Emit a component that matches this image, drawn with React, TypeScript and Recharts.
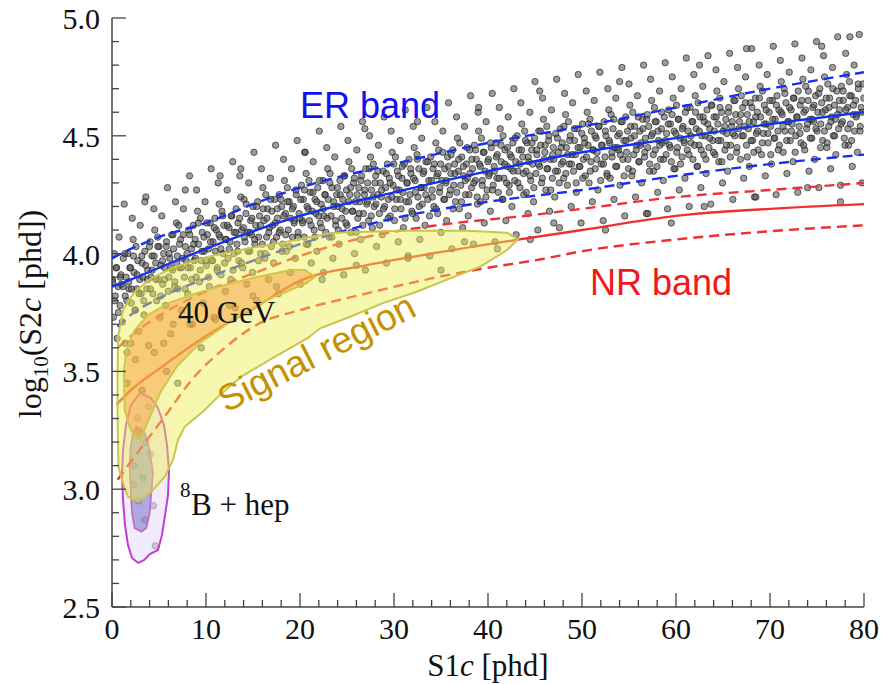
import React from 'react'
import { ComposedChart, Scatter, XAxis, YAxis } from 'recharts'

const W = 887
const H = 684
const SERIF = "'Liberation Serif', 'Times New Roman', serif"
const SANS = "'Liberation Sans', Arial, sans-serif"
const FRAME = '#444'

const xTicks = [0, 2, 4, 6, 8, 10, 12, 14, 16, 18, 20, 22, 24, 26, 28, 30, 32, 34, 36, 38, 40, 42, 44, 46, 48, 50, 52, 54, 56, 58, 60, 62, 64, 66, 68, 70, 72, 74, 76, 78, 80]
const yTicks = [2.5, 2.6, 2.7, 2.8, 2.9, 3.0, 3.1, 3.2, 3.3, 3.4, 3.5, 3.6, 3.7, 3.8, 3.9, 4.0, 4.1, 4.2, 4.3, 4.4, 4.5, 4.6, 4.7, 4.8, 4.9, 5.0]

// ER calibration events (S1c, log10 S2c)
const erCloud: [number, number][] = [
  [0.05,3.89],[0.15,3.73],[0.25,4.00],[0.35,3.82],[0.45,3.94],[0.55,3.64],[0.65,3.86],[0.75,4.07],[0.85,3.78],[0.95,3.91],
  [1.0,3.87],[1.1,3.71],[1.2,3.98],[1.3,4.21],[1.4,3.82],[1.5,3.90],[1.6,3.58],[1.7,4.00],[1.8,3.85],[1.9,3.94],
  [2.05,3.79],[2.15,4.15],[2.25,4.06],[2.35,3.92],[2.45,3.76],[2.55,4.03],[2.65,3.85],[2.75,3.97],[2.85,3.67],[2.95,3.89],
  [3.0,4.12],[3.1,3.83],[3.2,3.96],[3.3,3.90],[3.4,3.74],[3.5,4.01],[3.6,4.24],[3.7,3.85],[3.8,3.93],[3.9,3.61],
  [4.05,4.05],[4.15,3.90],[4.25,3.99],[4.35,3.83],[4.45,4.19],[4.55,4.10],[4.65,3.96],[4.75,3.80],[4.85,4.07],[4.95,3.89],
  [5.0,4.03],[5.1,3.73],[5.2,3.95],[5.3,4.16],[5.4,3.87],[5.5,4.00],[5.6,3.94],[5.7,3.78],[5.8,4.05],[5.9,4.28],
  [6.05,3.90],[6.15,3.98],[6.25,3.66],[6.35,4.08],[6.45,3.93],[6.55,4.02],[6.65,3.86],[6.75,4.22],[6.85,4.13],[6.95,3.99],
  [7.0,3.85],[7.1,4.12],[7.2,3.94],[7.3,4.06],[7.4,3.76],[7.5,3.98],[7.6,4.19],[7.7,3.90],[7.8,4.03],[7.9,3.97],
  [8.05,3.83],[8.15,4.10],[8.25,4.33],[8.35,3.94],[8.45,4.02],[8.55,3.70],[8.65,4.12],[8.75,3.97],[8.85,4.06],[8.95,3.90],
  [9.0,4.27],[9.1,4.18],[9.2,4.04],[9.3,3.88],[9.4,4.15],[9.5,3.97],[9.6,4.09],[9.7,3.79],[9.8,4.01],[9.9,4.22],
  [10.05,3.95],[10.15,4.08],[10.25,4.02],[10.35,3.86],[10.45,4.13],[10.55,4.36],[10.65,3.97],[10.75,4.05],[10.85,3.73],[10.95,4.15],
  [11.0,4.01],[11.1,4.10],[11.2,3.94],[11.3,4.30],[11.4,4.21],[11.5,4.07],[11.6,3.91],[11.7,4.18],[11.8,4.00],[11.9,4.12],
  [12.05,3.84],[12.15,4.06],[12.25,4.27],[12.35,3.98],[12.45,4.11],[12.55,4.05],[12.65,3.89],[12.75,4.16],[12.85,4.39],[12.95,4.00],
  [13.0,4.09],[13.1,3.77],[13.2,4.19],[13.3,4.04],[13.4,4.13],[13.5,3.97],[13.6,4.33],[13.7,4.24],[13.8,4.10],[13.9,3.94],
  [14.05,4.23],[14.15,4.05],[14.25,4.17],[14.35,3.87],[14.45,4.09],[14.55,4.30],[14.65,4.01],[14.75,4.14],[14.85,4.08],[14.95,3.92],
  [15.0,4.20],[15.1,4.43],[15.2,4.04],[15.3,4.12],[15.4,3.80],[15.5,4.22],[15.6,4.07],[15.7,4.16],[15.8,4.00],[15.9,4.36],
  [16.05,4.28],[16.15,4.14],[16.25,3.98],[16.35,4.25],[16.45,4.07],[16.55,4.19],[16.65,3.89],[16.75,4.11],[16.85,4.32],[16.95,4.03],
  [17.0,4.18],[17.1,4.12],[17.2,3.96],[17.3,4.23],[17.4,4.46],[17.5,4.07],[17.6,4.15],[17.7,3.83],[17.8,4.25],[17.9,4.10],
  [18.05,4.20],[18.15,4.04],[18.25,4.40],[18.35,4.31],[18.45,4.17],[18.55,4.01],[18.65,4.28],[18.75,4.10],[18.85,4.22],[18.95,3.92],
  [19.0,4.15],[19.1,4.36],[19.2,4.07],[19.3,4.20],[19.4,4.14],[19.5,3.98],[19.6,4.25],[19.7,4.48],[19.8,4.09],[19.9,4.17],
  [20.05,3.87],[20.15,4.29],[20.25,4.14],[20.35,4.23],[20.45,4.07],[20.55,4.43],[20.65,4.34],[20.75,4.20],[20.85,4.04],[20.95,4.31],
  [21.0,4.14],[21.1,4.26],[21.2,3.96],[21.3,4.18],[21.4,4.39],[21.5,4.10],[21.6,4.23],[21.7,4.17],[21.8,4.01],[21.9,4.28],
  [22.05,4.52],[22.15,4.13],[22.25,4.21],[22.35,3.89],[22.45,4.31],[22.55,4.16],[22.65,4.25],[22.75,4.09],[22.85,4.45],[22.95,4.36],
  [23.0,4.23],[23.1,4.07],[23.2,4.34],[23.3,4.16],[23.4,4.28],[23.5,3.98],[23.6,4.20],[23.7,4.41],[23.8,4.12],[23.9,4.25],
  [24.05,4.20],[24.15,4.04],[24.25,4.31],[24.35,4.54],[24.45,4.15],[24.55,4.23],[24.65,3.91],[24.75,4.33],[24.85,4.18],[24.95,4.27],
  [25.0,4.12],[25.1,4.48],[25.2,4.39],[25.3,4.25],[25.4,4.09],[25.5,4.36],[25.6,4.18],[25.7,4.30],[25.8,4.00],[25.9,4.22],
  [26.05,4.44],[26.15,4.15],[26.25,4.28],[26.35,4.22],[26.45,4.06],[26.55,4.33],[26.65,4.56],[26.75,4.17],[26.85,4.25],[26.95,3.93],
  [27.0,4.36],[27.1,4.21],[27.2,4.30],[27.3,4.14],[27.4,4.50],[27.5,4.41],[27.6,4.27],[27.7,4.11],[27.8,4.38],[27.9,4.20],
  [28.05,4.33],[28.15,4.03],[28.25,4.25],[28.35,4.46],[28.45,4.17],[28.55,4.30],[28.65,4.24],[28.75,4.08],[28.85,4.35],[28.95,4.58],
  [29.0,4.20],[29.1,4.28],[29.2,3.96],[29.3,4.38],[29.4,4.23],[29.5,4.32],[29.6,4.16],[29.7,4.52],[29.8,4.43],[29.9,4.29],
  [30.05,4.14],[30.15,4.41],[30.25,4.23],[30.35,4.35],[30.45,4.05],[30.55,4.27],[30.65,4.48],[30.75,4.19],[30.85,4.32],[30.95,4.26],
  [31.0,4.11],[31.1,4.38],[31.2,4.61],[31.3,4.22],[31.4,4.30],[31.5,3.98],[31.6,4.40],[31.7,4.25],[31.8,4.34],[31.9,4.18],
  [32.05,4.54],[32.15,4.45],[32.25,4.31],[32.35,4.15],[32.45,4.42],[32.55,4.24],[32.65,4.36],[32.75,4.06],[32.85,4.28],[32.95,4.49],
  [33.0,4.21],[33.1,4.34],[33.2,4.28],[33.3,4.12],[33.4,4.39],[33.5,4.62],[33.6,4.23],[33.7,4.31],[33.8,3.99],[33.9,4.41],
  [34.05,4.27],[34.15,4.36],[34.25,4.20],[34.35,4.56],[34.45,4.47],[34.55,4.33],[34.65,4.17],[34.75,4.44],[34.85,4.26],[34.95,4.38],
  [35.0,4.09],[35.1,4.31],[35.2,4.52],[35.3,4.23],[35.4,4.36],[35.5,4.30],[35.6,4.14],[35.7,4.41],[35.8,4.64],[35.9,4.25],
  [36.05,4.34],[36.15,4.02],[36.25,4.44],[36.35,4.29],[36.45,4.38],[36.55,4.22],[36.65,4.58],[36.75,4.49],[36.85,4.35],[36.95,4.19],
  [37.0,4.47],[37.1,4.29],[37.2,4.41],[37.3,4.11],[37.4,4.33],[37.5,4.54],[37.6,4.25],[37.7,4.38],[37.8,4.32],[37.9,4.16],
  [38.05,4.44],[38.15,4.67],[38.25,4.28],[38.35,4.36],[38.45,4.04],[38.55,4.46],[38.65,4.31],[38.75,4.40],[38.85,4.24],[38.95,4.60],
  [39.0,4.52],[39.1,4.38],[39.2,4.22],[39.3,4.49],[39.4,4.31],[39.5,4.43],[39.6,4.13],[39.7,4.35],[39.8,4.56],[39.9,4.27],
  [40.05,4.40],[40.15,4.34],[40.25,4.18],[40.35,4.45],[40.45,4.68],[40.55,4.29],[40.65,4.37],[40.75,4.05],[40.85,4.47],[40.95,4.32],
  [41.0,4.42],[41.1,4.26],[41.2,4.62],[41.3,4.53],[41.4,4.39],[41.5,4.23],[41.6,4.50],[41.7,4.32],[41.8,4.44],[41.9,4.14],
  [42.05,4.37],[42.15,4.58],[42.25,4.29],[42.35,4.42],[42.45,4.36],[42.55,4.20],[42.65,4.47],[42.75,4.70],[42.85,4.31],[42.95,4.39],
  [43.0,4.08],[43.1,4.50],[43.2,4.35],[43.3,4.44],[43.4,4.28],[43.5,4.64],[43.6,4.55],[43.7,4.41],[43.8,4.25],[43.9,4.52],
  [44.05,4.35],[44.15,4.47],[44.25,4.17],[44.35,4.39],[44.45,4.60],[44.55,4.31],[44.65,4.44],[44.75,4.38],[44.85,4.22],[44.95,4.49],
  [45.0,4.73],[45.1,4.34],[45.2,4.42],[45.3,4.10],[45.4,4.52],[45.5,4.37],[45.6,4.46],[45.7,4.30],[45.8,4.66],[45.9,4.57],
  [46.05,4.43],[46.15,4.27],[46.25,4.54],[46.35,4.36],[46.45,4.48],[46.55,4.18],[46.65,4.40],[46.75,4.61],[46.85,4.32],[46.95,4.45],
  [47.0,4.40],[47.1,4.24],[47.2,4.51],[47.3,4.74],[47.4,4.35],[47.5,4.43],[47.6,4.11],[47.7,4.53],[47.8,4.38],[47.9,4.47],
  [48.05,4.32],[48.15,4.68],[48.25,4.59],[48.35,4.45],[48.45,4.29],[48.55,4.56],[48.65,4.38],[48.75,4.50],[48.85,4.20],[48.95,4.42],
  [49.0,4.64],[49.1,4.35],[49.2,4.48],[49.3,4.42],[49.4,4.26],[49.5,4.53],[49.6,4.76],[49.7,4.37],[49.8,4.45],[49.9,4.13],
  [50.05,4.55],[50.15,4.40],[50.25,4.49],[50.35,4.33],[50.45,4.69],[50.55,4.60],[50.65,4.46],[50.75,4.30],[50.85,4.57],[50.95,4.39],
  [51.0,4.52],[51.1,4.22],[51.2,4.44],[51.3,4.65],[51.4,4.36],[51.5,4.49],[51.6,4.43],[51.7,4.27],[51.8,4.54],[51.9,4.77],
  [52.05,4.38],[52.15,4.46],[52.25,4.14],[52.35,4.56],[52.45,4.41],[52.55,4.50],[52.65,4.34],[52.75,4.70],[52.85,4.61],[52.95,4.47],
  [53.0,4.32],[53.1,4.59],[53.2,4.41],[53.3,4.53],[53.4,4.23],[53.5,4.45],[53.6,4.66],[53.7,4.37],[53.8,4.50],[53.9,4.44],
  [54.05,4.29],[54.15,4.56],[54.25,4.79],[54.35,4.40],[54.45,4.48],[54.55,4.16],[54.65,4.58],[54.75,4.43],[54.85,4.52],[54.95,4.36],
  [55.0,4.72],[55.1,4.63],[55.2,4.49],[55.3,4.33],[55.4,4.60],[55.5,4.42],[55.6,4.54],[55.7,4.24],[55.8,4.46],[55.9,4.67],
  [56.05,4.39],[56.15,4.52],[56.25,4.46],[56.35,4.30],[56.45,4.57],[56.55,4.80],[56.65,4.41],[56.75,4.49],[56.85,4.17],[56.95,4.59],
  [57.0,4.45],[57.1,4.54],[57.2,4.38],[57.3,4.74],[57.4,4.65],[57.5,4.51],[57.6,4.35],[57.7,4.62],[57.8,4.44],[57.9,4.56],
  [58.05,4.26],[58.15,4.48],[58.25,4.69],[58.35,4.40],[58.45,4.53],[58.55,4.47],[58.65,4.31],[58.75,4.58],[58.85,4.81],[58.95,4.42],
  [59.0,4.51],[59.1,4.19],[59.2,4.61],[59.3,4.46],[59.4,4.55],[59.5,4.39],[59.6,4.75],[59.7,4.66],[59.8,4.52],[59.9,4.36],
  [60.05,4.63],[60.15,4.45],[60.25,4.57],[60.35,4.27],[60.45,4.49],[60.55,4.70],[60.65,4.41],[60.75,4.54],[60.85,4.48],[60.95,4.32],
  [61.0,4.60],[61.1,4.83],[61.2,4.44],[61.3,4.52],[61.4,4.20],[61.5,4.62],[61.6,4.47],[61.7,4.56],[61.8,4.40],[61.9,4.76],
  [62.05,4.67],[62.15,4.53],[62.25,4.37],[62.35,4.64],[62.45,4.46],[62.55,4.58],[62.65,4.28],[62.75,4.50],[62.85,4.71],[62.95,4.42],
  [63.0,4.56],[63.1,4.50],[63.2,4.34],[63.3,4.61],[63.4,4.84],[63.5,4.45],[63.6,4.53],[63.7,4.21],[63.8,4.63],[63.9,4.48],
  [64.05,4.58],[64.15,4.42],[64.25,4.78],[64.35,4.69],[64.45,4.55],[64.55,4.39],[64.65,4.66],[64.75,4.48],[64.85,4.60],[64.95,4.30],
  [65.0,4.52],[65.1,4.73],[65.2,4.44],[65.3,4.57],[65.4,4.51],[65.5,4.35],[65.6,4.62],[65.7,4.85],[65.8,4.46],[65.9,4.54],
  [66.05,4.23],[66.15,4.65],[66.25,4.50],[66.35,4.59],[66.45,4.43],[66.55,4.79],[66.65,4.70],[66.75,4.56],[66.85,4.40],[66.95,4.67],
  [67.0,4.50],[67.1,4.62],[67.2,4.32],[67.3,4.54],[67.4,4.75],[67.5,4.46],[67.6,4.59],[67.7,4.53],[67.8,4.37],[67.9,4.64],
  [68.05,4.87],[68.15,4.48],[68.25,4.56],[68.35,4.24],[68.45,4.66],[68.55,4.51],[68.65,4.60],[68.75,4.44],[68.85,4.80],[68.95,4.71],
  [69.0,4.58],[69.1,4.42],[69.2,4.69],[69.3,4.51],[69.4,4.63],[69.5,4.33],[69.6,4.55],[69.7,4.76],[69.8,4.47],[69.9,4.60],
  [70.05,4.54],[70.15,4.38],[70.25,4.65],[70.35,4.88],[70.45,4.49],[70.55,4.57],[70.65,4.25],[70.75,4.67],[70.85,4.52],[70.95,4.61],
  [71.0,4.46],[71.1,4.82],[71.2,4.73],[71.3,4.59],[71.4,4.43],[71.5,4.70],[71.6,4.52],[71.7,4.64],[71.8,4.34],[71.9,4.56],
  [72.05,4.77],[72.15,4.48],[72.25,4.61],[72.35,4.55],[72.45,4.39],[72.55,4.66],[72.65,4.89],[72.75,4.50],[72.85,4.58],[72.95,4.26],
  [73.0,4.69],[73.1,4.54],[73.2,4.63],[73.3,4.47],[73.4,4.83],[73.5,4.74],[73.6,4.60],[73.7,4.44],[73.8,4.71],[73.9,4.53],
  [74.05,4.65],[74.15,4.35],[74.25,4.57],[74.35,4.78],[74.45,4.49],[74.55,4.62],[74.65,4.56],[74.75,4.40],[74.85,4.67],[74.95,4.90],
  [75.0,4.52],[75.1,4.60],[75.2,4.28],[75.3,4.70],[75.4,4.55],[75.5,4.64],[75.6,4.48],[75.7,4.84],[75.8,4.75],[75.9,4.61],
  [76.05,4.45],[76.15,4.72],[76.25,4.54],[76.35,4.66],[76.45,4.36],[76.55,4.58],[76.65,4.79],[76.75,4.50],[76.85,4.63],[76.95,4.57],
  [77.0,4.42],[77.1,4.69],[77.2,4.92],[77.3,4.53],[77.4,4.61],[77.5,4.29],[77.6,4.71],[77.7,4.56],[77.8,4.65],[77.9,4.49],
  [78.05,4.85],[78.15,4.76],[78.25,4.62],[78.35,4.46],[78.45,4.73],[78.55,4.55],[78.65,4.67],[78.75,4.37],[78.85,4.59],[78.95,4.80],
  [79.0,4.52],[79.1,4.65],[79.2,4.59],[79.3,4.43],[79.4,4.70],[79.5,4.93],[79.6,4.54],[79.7,4.62],[79.8,4.30],[79.9,4.72],
]

// the dense middle of the ER population
const erCore: [number, number][] = [
  [0.08,3.88],[0.28,3.80],[0.48,3.94],[0.68,3.75],[0.88,3.90],[1.18,3.86],[1.38,4.00],[1.58,3.80],[1.78,3.88],[1.98,3.94],
  [2.08,3.85],[2.28,3.99],[2.48,3.76],[2.68,3.91],[2.88,3.83],[3.18,3.99],[3.38,3.80],[3.58,3.95],[3.78,3.89],[3.98,4.03],
  [4.08,3.85],[4.28,3.93],[4.48,3.99],[4.68,3.89],[4.88,4.03],[5.18,3.82],[5.38,3.97],[5.58,3.89],[5.78,4.03],[5.98,3.84],
  [6.08,4.00],[6.28,3.94],[6.48,4.08],[6.68,3.88],[6.88,3.96],[7.18,4.04],[7.38,3.94],[7.58,4.08],[7.78,3.85],[7.98,4.00],
  [8.08,3.94],[8.28,4.08],[8.48,3.89],[8.68,4.04],[8.88,3.98],[9.18,4.13],[9.38,3.93],[9.58,4.01],[9.78,4.07],[9.98,3.97],
  [10.08,4.13],[10.28,3.90],[10.48,4.05],[10.68,3.97],[10.88,4.11],[11.18,3.93],[11.38,4.08],[11.58,4.02],[11.78,4.16],[11.98,3.96],
  [12.08,4.06],[12.28,4.12],[12.48,4.02],[12.68,4.16],[12.88,3.93],[13.18,4.09],[13.38,4.01],[13.58,4.15],[13.78,3.96],[13.98,4.11],
  [14.08,4.07],[14.28,4.21],[14.48,4.01],[14.68,4.09],[14.88,4.15],[15.18,4.06],[15.38,4.20],[15.58,3.97],[15.78,4.12],[15.98,4.04],
  [16.08,4.19],[16.28,4.00],[16.48,4.15],[16.68,4.09],[16.88,4.23],[17.18,4.05],[17.38,4.13],[17.58,4.19],[17.78,4.09],[17.98,4.23],
  [18.08,4.01],[18.28,4.16],[18.48,4.08],[18.68,4.22],[18.88,4.03],[19.18,4.19],[19.38,4.13],[19.58,4.27],[19.78,4.07],[19.98,4.15],
  [20.08,4.23],[20.28,4.13],[20.48,4.27],[20.68,4.04],[20.88,4.19],[21.18,4.12],[21.38,4.26],[21.58,4.07],[21.78,4.22],[21.98,4.16],
  [22.08,4.31],[22.28,4.11],[22.48,4.19],[22.68,4.25],[22.88,4.15],[23.18,4.30],[23.38,4.07],[23.58,4.22],[23.78,4.14],[23.98,4.28],
  [24.08,4.10],[24.28,4.25],[24.48,4.19],[24.68,4.33],[24.88,4.13],[25.18,4.22],[25.38,4.28],[25.58,4.18],[25.78,4.32],[25.98,4.09],
  [26.08,4.25],[26.28,4.17],[26.48,4.31],[26.68,4.12],[26.88,4.27],[27.18,4.22],[27.38,4.36],[27.58,4.16],[27.78,4.24],[27.98,4.30],
  [28.08,4.21],[28.28,4.35],[28.48,4.12],[28.68,4.27],[28.88,4.19],[29.18,4.34],[29.38,4.15],[29.58,4.30],[29.78,4.24],[29.98,4.38],
  [30.08,4.19],[30.28,4.27],[30.48,4.33],[30.68,4.23],[30.88,4.37],[31.18,4.15],[31.38,4.30],[31.58,4.22],[31.78,4.36],[31.98,4.17],
  [32.08,4.32],[32.28,4.26],[32.48,4.40],[32.68,4.20],[32.88,4.28],[33.18,4.35],[33.38,4.25],[33.58,4.39],[33.78,4.16],[33.98,4.31],
  [34.08,4.24],[34.28,4.38],[34.48,4.19],[34.68,4.34],[34.88,4.28],[35.18,4.43],[35.38,4.23],[35.58,4.31],[35.78,4.37],[35.98,4.27],
  [36.08,4.42],[36.28,4.19],[36.48,4.34],[36.68,4.26],[36.88,4.40],[37.18,4.22],[37.38,4.37],[37.58,4.31],[37.78,4.45],[37.98,4.25],
  [38.08,4.34],[38.28,4.40],[38.48,4.30],[38.68,4.44],[38.88,4.21],[39.18,4.37],[39.38,4.29],[39.58,4.43],[39.78,4.24],[39.98,4.39],
  [40.08,4.33],[40.28,4.47],[40.48,4.27],[40.68,4.35],[40.88,4.41],[41.18,4.32],[41.38,4.46],[41.58,4.23],[41.78,4.38],[41.98,4.30],
  [42.08,4.45],[42.28,4.26],[42.48,4.41],[42.68,4.35],[42.88,4.49],[43.18,4.30],[43.38,4.38],[43.58,4.44],[43.78,4.34],[43.98,4.48],
  [44.08,4.26],[44.28,4.41],[44.48,4.33],[44.68,4.47],[44.88,4.28],[45.18,4.44],[45.38,4.38],[45.58,4.52],[45.78,4.32],[45.98,4.40],
  [46.08,4.46],[46.28,4.36],[46.48,4.50],[46.68,4.27],[46.88,4.42],[47.18,4.35],[47.38,4.49],[47.58,4.30],[47.78,4.45],[47.98,4.39],
  [48.08,4.54],[48.28,4.34],[48.48,4.42],[48.68,4.48],[48.88,4.38],[49.18,4.53],[49.38,4.30],[49.58,4.45],[49.78,4.37],[49.98,4.51],
  [50.08,4.32],[50.28,4.47],[50.48,4.41],[50.68,4.55],[50.88,4.35],[51.18,4.44],[51.38,4.50],[51.58,4.40],[51.78,4.54],[51.98,4.31],
  [52.08,4.46],[52.28,4.38],[52.48,4.52],[52.68,4.33],[52.88,4.48],[53.18,4.43],[53.38,4.57],[53.58,4.37],[53.78,4.45],[53.98,4.51],
  [54.08,4.42],[54.28,4.56],[54.48,4.33],[54.68,4.48],[54.88,4.40],[55.18,4.54],[55.38,4.35],[55.58,4.50],[55.78,4.44],[55.98,4.58],
  [56.08,4.39],[56.28,4.47],[56.48,4.53],[56.68,4.43],[56.88,4.57],[57.18,4.35],[57.38,4.50],[57.58,4.42],[57.78,4.56],[57.98,4.37],
  [58.08,4.52],[58.28,4.46],[58.48,4.60],[58.68,4.40],[58.88,4.48],[59.18,4.55],[59.38,4.45],[59.58,4.59],[59.78,4.36],[59.98,4.51],
  [60.08,4.43],[60.28,4.57],[60.48,4.38],[60.68,4.53],[60.88,4.47],[61.18,4.62],[61.38,4.42],[61.58,4.50],[61.78,4.56],[61.98,4.46],
  [62.08,4.60],[62.28,4.37],[62.48,4.52],[62.68,4.44],[62.88,4.58],[63.18,4.40],[63.38,4.55],[63.58,4.49],[63.78,4.63],[63.98,4.43],
  [64.08,4.52],[64.28,4.58],[64.48,4.48],[64.68,4.62],[64.88,4.39],[65.18,4.54],[65.38,4.46],[65.58,4.60],[65.78,4.41],[65.98,4.56],
  [66.08,4.51],[66.28,4.65],[66.48,4.45],[66.68,4.53],[66.88,4.59],[67.18,4.50],[67.38,4.64],[67.58,4.41],[67.78,4.56],[67.98,4.48],
  [68.08,4.62],[68.28,4.43],[68.48,4.58],[68.68,4.52],[68.88,4.66],[69.18,4.47],[69.38,4.55],[69.58,4.61],[69.78,4.51],[69.98,4.65],
  [70.08,4.42],[70.28,4.57],[70.48,4.49],[70.68,4.63],[70.88,4.44],[71.18,4.60],[71.38,4.54],[71.58,4.68],[71.78,4.48],[71.98,4.56],
  [72.08,4.62],[72.28,4.52],[72.48,4.66],[72.68,4.43],[72.88,4.58],[73.18,4.51],[73.38,4.65],[73.58,4.46],[73.78,4.61],[73.98,4.55],
  [74.08,4.69],[74.28,4.49],[74.48,4.57],[74.68,4.63],[74.88,4.53],[75.18,4.68],[75.38,4.45],[75.58,4.60],[75.78,4.52],[75.98,4.66],
  [76.08,4.47],[76.28,4.62],[76.48,4.56],[76.68,4.70],[76.88,4.50],[77.18,4.59],[77.38,4.65],[77.58,4.55],[77.78,4.69],[77.98,4.46],
  [78.08,4.61],[78.28,4.53],[78.48,4.67],[78.68,4.48],[78.88,4.63],[79.18,4.58],[79.38,4.72],[79.58,4.52],[79.78,4.60],[79.98,4.66],
]

// sparse events above / below the ER band and in the low-S1 corner
const erOutliers: [number, number][] = [
  [3.5,4.22],[7.8,4.27],[11.5,4.33],[13.7,4.36],[20.5,4.43],[26.9,4.53],[32.5,4.56],[39.0,4.62],
  [45.5,4.69],[54.0,4.73],[62.5,4.80],[67.5,4.87],[75.5,4.88],[78.5,4.92],
  [5.5,3.62],[8.3,3.70],[12.5,3.78],[17.5,3.86],[22.5,3.92],[26.0,3.95],[31.5,3.99],[35.0,3.93],
  [37.5,4.05],[41.0,4.02],[44.5,4.06],[47.0,4.13],[52.5,4.10],[57.0,4.17],[59.5,4.13],[63.0,4.20],
  [68.5,4.24],[74.0,4.28],[77.5,4.22],
  [2.5,3.55],[3.2,3.42],[2.0,3.62],[4.5,3.58],[3.6,3.20],[2.4,3.10],[3.3,3.05],[4.1,3.15],
  [2.8,2.95],[3.5,2.87],[4.4,2.93],[4.6,2.76],[2.7,3.30],[5.8,3.50],[7.0,3.45],[9.5,3.60],
  [6.5,3.70],[1.6,3.45],[1.4,3.62],[11.0,3.72],[15.0,3.82],[3.9,3.35],[2.9,3.25],[2.3,3.02],
]

// band lines
const erMean: [number, number][] = [[0,3.86],[2,3.89],[5,3.94],[10,4.02],[15,4.095],[20,4.16],[30,4.26],[40,4.35],[50,4.43],[60,4.49],[70,4.55],[80,4.60]]
const erUpper: [number, number][] = [[0,3.98],[2,4.02],[5,4.07],[10,4.13],[15,4.21],[20,4.28],[30,4.38],[40,4.47],[50,4.54],[60,4.62],[70,4.70],[80,4.77]]
const erLower: [number, number][] = [[0.6,3.69],[2,3.74],[5,3.81],[10,3.895],[15,3.97],[20,4.04],[30,4.15],[40,4.22],[50,4.27],[60,4.33],[70,4.38],[80,4.42]]
const nrMean: [number, number][] = [[0.5,3.36],[2,3.42],[5,3.51],[10,3.65],[15,3.765],[20,3.885],[27,3.95],[34,4.0],[43,4.058],[50,4.10],[60,4.16],[70,4.19],[80,4.21]]
const nrUpper: [number, number][] = [[0.6,3.60],[2,3.65],[5,3.735],[10,3.84],[15,3.915],[20,3.99],[27,4.07],[34,4.117],[45,4.165],[50,4.19],[60,4.24],[70,4.27],[80,4.30]]
const nrLower: [number, number][] = [[0.6,3.04],[3,3.17],[6,3.33],[8.4,3.46],[12,3.60],[15.5,3.70],[20,3.76],[27,3.83],[34,3.895],[40,3.94],[45.5,3.975],[50,4.01],[60,4.06],[70,4.095],[80,4.12]]

// contours
const signalRegion: [number, number][] = [
  [0.64,3.646],[1.17,3.761],[2.41,3.838],[4.18,3.895],[6.67,3.944],[10.21,3.987],[14.47,4.022],[18.72,4.051],
  [23.51,4.088],[30.64,4.097],[37.77,4.097],[42.02,4.089],[43.19,4.061],[42.02,4.015],[39.15,3.944],[35.96,3.895],
  [32.41,3.838],[28.83,3.79],[25.32,3.732],[22.13,3.683],[20.85,3.642],[17.31,3.562],[13.76,3.478],[11.28,3.393],
  [9.86,3.336],[7.73,3.265],[7.02,3.209],[6.49,3.124],[5.61,3.053],[4.18,2.989],[2.77,2.947],[1.7,2.968],
  [1.17,3.025],[0.69,3.095],[0.59,3.294],[0.59,3.464],
]
const wimp40: [number, number][] = [
  [1.52,3.591],[2.41,3.676],[3.83,3.739],[5.96,3.789],[8.44,3.824],[11.99,3.867],[15.53,3.902],[19.07,3.93],
  [20.53,3.93],[21.6,3.902],[20.71,3.875],[16.46,3.803],[12.87,3.718],[9.36,3.621],[6.88,3.52],[5.11,3.408],
  [4.04,3.308],[2.98,3.209],[2.41,3.223],[1.88,3.265],[1.35,3.336],[1.28,3.435],[1.28,3.506],
]
const b8Outer: [number, number][] = [
  [2.98,3.408],[4.15,3.387],[4.89,3.345],[5.53,3.272],[5.85,3.188],[6.06,3.081],[5.96,2.975],[5.64,2.89],
  [5.32,2.806],[4.89,2.742],[4.04,2.725],[3.4,2.699],[2.77,2.687],[2.13,2.708],[1.7,2.763],[1.38,2.848],
  [1.17,2.954],[1.06,3.06],[1.17,3.166],[1.49,3.272],[2.02,3.357],
]
const b8Inner: [number, number][] = [
  [2.59,3.265],[3.48,3.239],[4.01,3.166],[4.36,3.069],[4.18,2.984],[4.01,2.899],[3.65,2.835],[3.12,2.82],
  [2.41,2.835],[2.13,2.899],[1.99,2.997],[1.88,3.096],[1.99,3.18],[2.23,3.239],
]

const pts = (a: [number, number][]) => a.map(([x, y]) => ({ x, y }))
const isMajorY = (v: number) => Math.abs(v * 2 - Math.round(v * 2)) < 1e-6
const noDot = () => <g />

function BottomTick({ x, y, payload }: any) {
  const major = payload.value % 10 === 0
  return (
    <g>
      <line x1={x} y1={y} x2={x} y2={y - (major ? 14 : 7)} stroke={FRAME} strokeWidth={1.3} />
      {major && (
        <text x={x} y={y + 32} textAnchor="middle" fontFamily={SERIF} fontSize={30} fill="#111">
          {payload.value}
        </text>
      )}
    </g>
  )
}

function TopTick({ x, y, payload }: any) {
  const major = payload.value % 10 === 0
  return <line x1={x} y1={y} x2={x} y2={y + (major ? 14 : 7)} stroke={FRAME} strokeWidth={1.3} />
}

function LeftTick({ x, y, payload }: any) {
  const major = isMajorY(payload.value)
  return (
    <g>
      <line x1={x} y1={y} x2={x + (major ? 14 : 7)} y2={y} stroke={FRAME} strokeWidth={1.3} />
      {major && (
        <text x={x - 12} y={y + 11} textAnchor="end" fontFamily={SERIF} fontSize={30} fill="#111">
          {payload.value.toFixed(1)}
        </text>
      )}
    </g>
  )
}

function RightTick({ x, y, payload }: any) {
  const major = isMajorY(payload.value)
  return <line x1={x} y1={y} x2={x - (major ? 14 : 7)} y2={y} stroke={FRAME} strokeWidth={1.3} />
}

function EventDot({ cx, cy }: any) {
  return <circle cx={cx} cy={cy} r={3.2} fill="#4c4c4c" fillOpacity={0.55} stroke="#1a1a1a" strokeOpacity={0.7} strokeWidth={0.9} />
}

const bandLine = (color: string, dashed: boolean) => ({
  stroke: color,
  strokeWidth: 2.4,
  fill: 'none',
  strokeDasharray: dashed ? '10 6' : undefined,
})

export default function App() {
  return (
    <div style={{ position: 'absolute', left: 0, top: 0, width: W, height: H, background: '#fff' }}>
      <ComposedChart width={W} height={H} margin={{ top: 18, right: 23, bottom: 0, left: 0 }}>
        <XAxis
          dataKey="x" type="number" domain={[0, 80]} ticks={xTicks} interval={0} height={77}
          tickSize={0} tickMargin={0} tickLine={false} tick={<BottomTick />}
          axisLine={{ stroke: FRAME, strokeWidth: 1.5 }} allowDataOverflow
        />
        <XAxis
          xAxisId="top" orientation="top" type="number" domain={[0, 80]} ticks={xTicks} interval={0} height={0}
          tickSize={0} tickMargin={0} tickLine={false} tick={<TopTick />}
          axisLine={{ stroke: FRAME, strokeWidth: 1.5 }} allowDataOverflow
        />
        <YAxis
          dataKey="y" type="number" domain={[2.5, 5]} ticks={yTicks} interval={0} width={112}
          tickSize={0} tickMargin={0} tickLine={false} tick={<LeftTick />}
          axisLine={{ stroke: FRAME, strokeWidth: 1.5 }} allowDataOverflow
        />
        <YAxis
          yAxisId="right" orientation="right" type="number" domain={[2.5, 5]} ticks={yTicks} interval={0} width={0}
          tickSize={0} tickMargin={0} tickLine={false} tick={<RightTick />}
          axisLine={{ stroke: FRAME, strokeWidth: 1.5 }} allowDataOverflow
        />

        <Scatter data={pts(erCloud)} shape={<EventDot />} isAnimationActive={false} />
        <Scatter data={pts(erCore)} shape={<EventDot />} isAnimationActive={false} />
        <Scatter data={pts(erOutliers)} shape={<EventDot />} isAnimationActive={false} />

        {/* 8B + hep contours */}
        <Scatter data={pts(b8Outer)} shape={noDot} isAnimationActive={false} lineJointType="linearClosed"
          line={{ fill: '#e8e0f8', fillOpacity: 0.6, stroke: '#c23cd2', strokeWidth: 2 }} />
        <Scatter data={pts(b8Inner)} shape={noDot} isAnimationActive={false} lineJointType="linearClosed"
          line={{ fill: '#6c66c6', fillOpacity: 0.5, stroke: '#c070c4', strokeWidth: 1.8 }} />

        {/* ER and NR bands */}
        <Scatter data={pts(erUpper)} shape={noDot} isAnimationActive={false} lineJointType="monotone" line={bandLine('#1530ee', true)} />
        <Scatter data={pts(erMean)} shape={noDot} isAnimationActive={false} lineJointType="monotone" line={bandLine('#1530ee', false)} />
        <Scatter data={pts(erLower)} shape={noDot} isAnimationActive={false} lineJointType="monotone" line={bandLine('#1530ee', true)} />
        <Scatter data={pts(nrUpper)} shape={noDot} isAnimationActive={false} lineJointType="monotone" line={bandLine('#f03030', true)} />
        <Scatter data={pts(nrMean)} shape={noDot} isAnimationActive={false} lineJointType="monotone" line={bandLine('#f03030', false)} />
        <Scatter data={pts(nrLower)} shape={noDot} isAnimationActive={false} lineJointType="monotone" line={bandLine('#f03030', true)} />

        {/* signal region and 40 GeV WIMP contour */}
        <Scatter data={pts(signalRegion)} shape={noDot} isAnimationActive={false} lineJointType="linearClosed"
          line={{ fill: '#f0ee50', fillOpacity: 0.45, stroke: '#c8c64a', strokeWidth: 2 }} />
        <Scatter data={pts(wimp40)} shape={noDot} isAnimationActive={false} lineJointType="linearClosed"
          line={{ fill: '#f5a040', fillOpacity: 0.5, stroke: '#d0c64c', strokeWidth: 2 }} />
      </ComposedChart>

      <svg width={W} height={H} style={{ position: 'absolute', left: 0, top: 0, pointerEvents: 'none' }}>
        <text x={300} y={118} fontFamily={SANS} fontSize={36} fill="#1010f0">ER band</text>
        <text x={590} y={295} fontFamily={SANS} fontSize={36} fill="#f01818">NR band</text>
        <text transform="translate(226,413) rotate(-27)" fontFamily={SANS} fontSize={37} fill="#c49200">Signal region</text>
        <text x={178} y={323} fontFamily={SERIF} fontSize={31} fill="#111">40 GeV</text>
        <text x={180} y={497} fontFamily={SERIF} fontSize={21} fill="#111">8</text>
        <text x={191} y={515} fontFamily={SERIF} fontSize={31} fill="#111">B + hep</text>

        <text x={488} y={676} textAnchor="middle" fontFamily={SERIF} fontSize={31} fill="#111">
          S1<tspan fontStyle="italic">c</tspan> [phd]
        </text>
        <text transform="translate(41,314) rotate(-90)" textAnchor="middle" fontFamily={SERIF} fontSize={32} fill="#111">
          log<tspan fontSize={21} dy={7}>10</tspan><tspan dy={-7}>(S2</tspan><tspan fontStyle="italic">c</tspan> [phd])
        </text>
      </svg>
    </div>
  )
}
